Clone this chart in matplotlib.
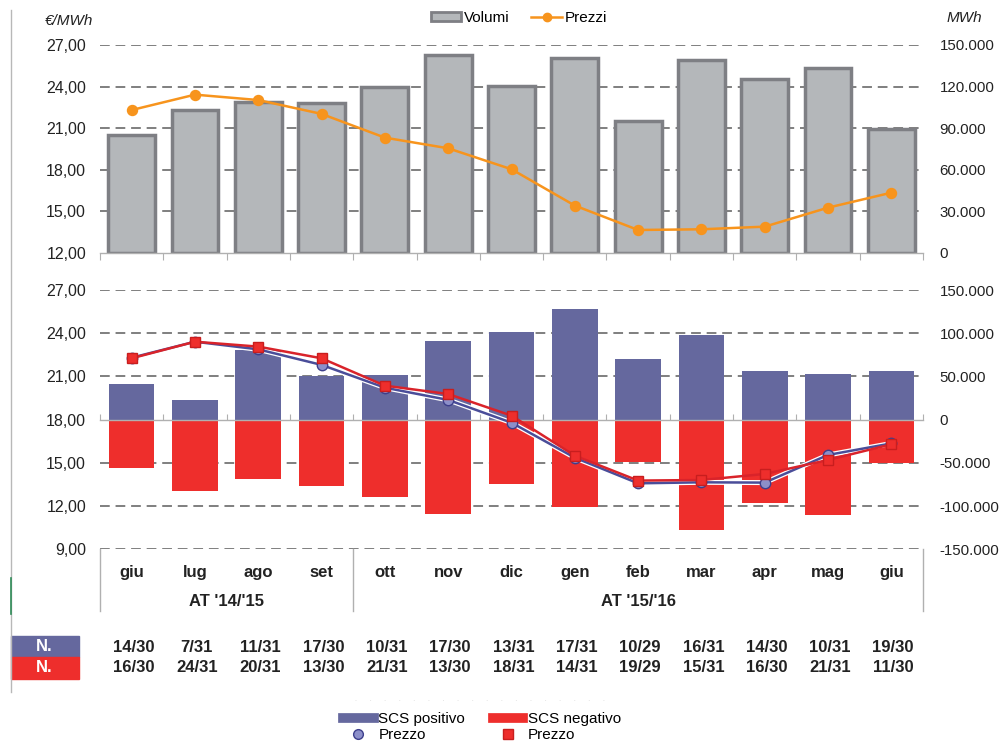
import matplotlib
matplotlib.use("Agg")
import matplotlib.pyplot as plt
from matplotlib.lines import Line2D
from matplotlib.patches import Patch, Rectangle
from matplotlib.ticker import FuncFormatter
from matplotlib.transforms import blended_transform_factory
import matplotlib.patheffects as pe

plt.rcParams['font.family'] = ['Liberation Sans', 'DejaVu Sans']

# ---- data ----
months = ["giu", "lug", "ago", "set", "ott", "nov", "dic",
          "gen", "feb", "mar", "apr", "mag", "giu"]
years = ["AT '14/'15", "AT '15/'16"]
year_len = [4, 9]

volumi = [85000, 103000, 109000, 108500, 119500, 143000, 120500,
          140500, 95000, 139500, 125500, 133500, 89500]
prezzi = [22.31, 23.42, 23.03, 22.03, 20.32, 19.55, 18.04,
          15.42, 13.66, 13.71, 13.90, 15.27, 16.35]

scs_pos = [41000, 23000, 81000, 51000, 52000, 91500, 101000,
           128000, 70000, 97500, 56500, 53000, 56500]
scs_neg = [-56500, -82500, -68500, -76500, -89500, -109000, -74000,
           -101000, -49500, -128000, -96000, -110000, -50000]
prezzo_pos = [22.30, 23.41, 22.88, 21.80, 20.22, 19.37, 17.79,
              15.36, 13.58, 13.65, 13.63, 15.55, 16.35]
prezzo_neg = [22.26, 23.41, 23.07, 22.26, 20.36, 19.78, 18.28,
              15.50, 13.77, 13.81, 14.23, 15.20, 16.29]

n_pos = ["14/30", "7/31", "11/31", "17/30", "10/31", "17/30", "13/31",
         "17/31", "10/29", "16/31", "14/30", "10/31", "19/30"]
n_neg = ["16/30", "24/31", "20/31", "13/30", "21/31", "13/30", "18/31",
         "14/31", "19/29", "15/31", "16/30", "21/31", "11/30"]

# ---- styles ----
GRAY_FACE = "#b4b7ba"
GRAY_EDGE = "#7e7f84"
ORANGE = "#f7941d"
BLUE = "#65689e"
BLUE_LINE = "#4a4d99"
BLUE_MARK = "#8c8fc9"
RED = "#ee2e2c"
RED_LINE = "#d9232a"
GRID = "#7f7f7f"
TXT = "#222222"
AXLINE = "#b0b0b0"

W, H = 999, 744
fig = plt.figure(figsize=(W / 100, H / 100), dpi=100)


def fy(py):
    return 1 - py / H


def fx(px):
    return px / W


x = list(range(len(months)))
bounds = [i - 0.5 for i in range(len(months) + 1)]
left, right = fx(100), fx(923)

fmt_left = FuncFormatter(lambda v, p: f"{v:.2f}".replace(".", ","))
fmt_right = FuncFormatter(lambda v, p: f"{v:,.0f}".replace(",", "."))

grid_kw = dict(color=GRID, linestyle=(0, (5, 3)), linewidth=1.4)
LBL = 11.5
RLBL = 10.8

# ================= top panel =================
axt = fig.add_axes([left, fy(253), right - left, fy(45) - fy(253)])
axt2 = axt.twinx()
axt.set_zorder(axt2.get_zorder() + 1)
axt.patch.set_visible(False)

axt2.bar(x, volumi, width=0.74, color=GRAY_FACE, edgecolor=GRAY_EDGE,
         linewidth=2.5, zorder=3)
axt2.set_ylim(0, 150000)
axt2.set_yticks(range(0, 150001, 30000))
axt2.yaxis.set_major_formatter(fmt_right)
for v in range(30000, 150001, 30000):
    axt2.axhline(v, zorder=1, **grid_kw)

axt.plot(x, prezzi, color=ORANGE, linewidth=1.8, marker="o",
         markersize=7.2, markerfacecolor=ORANGE, markeredgecolor=ORANGE,
         zorder=5)
axt.set_ylim(12, 27)
axt.set_yticks(range(12, 28, 3))
axt.yaxis.set_major_formatter(fmt_left)
axt.set_xlim(-0.5, len(months) - 0.5)
axt.set_xticks(bounds)
axt.set_xticklabels([])

for a in (axt, axt2):
    for s in ("top", "left", "right"):
        a.spines[s].set_visible(False)
    a.spines["bottom"].set_color(AXLINE)
    a.spines["bottom"].set_linewidth(1.0)
axt2.spines["bottom"].set_visible(False)
axt.tick_params(axis="x", length=5, color=AXLINE, direction="out")
axt.tick_params(axis="y", length=0, pad=10, labelsize=LBL, labelcolor=TXT)
axt2.tick_params(axis="y", length=0, pad=12, labelsize=RLBL, labelcolor=TXT)

# ================= bottom panel =================
axb = fig.add_axes([left, fy(549.3), right - left, fy(290) - fy(549.3)])
axb2 = axb.twinx()
axb.set_zorder(axb2.get_zorder() + 1)
axb.patch.set_visible(False)

axb2.bar(x, scs_pos, width=0.72, color=BLUE, edgecolor="none", zorder=3)
axb2.bar(x, scs_neg, width=0.72, color=RED, edgecolor="none", zorder=3)
axb2.set_ylim(-150000, 150000)
axb2.set_yticks(range(-150000, 150001, 50000))
axb2.yaxis.set_major_formatter(fmt_right)
for v in range(-150000, 150001, 50000):
    if v != 0:
        axb2.axhline(v, zorder=1, **grid_kw)

halo = [pe.Stroke(linewidth=3.6, foreground="white"), pe.Normal()]
axb.plot(x, prezzo_pos, color=BLUE_LINE, linewidth=1.8, path_effects=halo,
         zorder=5)
axb.plot(x, prezzo_pos, linestyle="none", marker="o", markersize=7.5,
         markerfacecolor=BLUE_MARK, markeredgecolor="#3d3f8c",
         markeredgewidth=1.0, zorder=5.5)
axb.plot(x, prezzo_neg, color=RED_LINE, linewidth=1.8, marker="s",
         markersize=7, markerfacecolor=RED, markeredgecolor="#c81e1e",
         markeredgewidth=1.0, zorder=6)
axb.set_ylim(9, 27)
axb.set_yticks(range(9, 28, 3))
axb.yaxis.set_major_formatter(fmt_left)
axb.set_xlim(-0.5, len(months) - 0.5)
axb.set_xticks(x)
axb.set_xticklabels(months, fontsize=12, fontweight="bold", color=TXT)
axb.tick_params(axis="x", length=0, pad=11)
axb.tick_params(axis="y", length=0, pad=10, labelsize=LBL, labelcolor=TXT)
axb2.tick_params(axis="y", length=0, pad=12, labelsize=RLBL, labelcolor=TXT)
for a in (axb, axb2):
    for s in a.spines.values():
        s.set_visible(False)

# zero line with category-boundary ticks
zero_ax = axb.secondary_xaxis(0.5)
zero_ax.set_xticks(bounds)
zero_ax.set_xticklabels([])
zero_ax.tick_params(axis="x", length=4, color=AXLINE, direction="out")
for s in zero_ax.spines.values():
    s.set_color(AXLINE)
    s.set_linewidth(1.0)

# year grouping box under the month labels
trans_b = blended_transform_factory(axb.transData, fig.transFigure)
edges = [-0.5]
for n in year_len:
    edges.append(edges[-1] + n)
for e in edges:
    axb.plot([e, e], [fy(549.3), fy(611)], transform=trans_b, color=AXLINE,
             linewidth=1.0, clip_on=False)
for i, label in enumerate(years):
    cx = (edges[i] + edges[i + 1]) / 2
    axb.text(cx, fy(601), label, transform=trans_b, ha="center", va="center",
             fontsize=12, fontweight="bold", color=TXT)

# ---- day count table ----
for i in x:
    axb.text(i + 0.03, fy(647), n_pos[i], transform=trans_b, ha="center",
             va="center", fontsize=12, fontweight="bold", color=TXT)
    axb.text(i + 0.03, fy(668), n_neg[i], transform=trans_b, ha="center",
             va="center", fontsize=12, fontweight="bold", color=TXT)

fig.patches.append(Rectangle((fx(11), fy(657)), fx(68), fy(636) - fy(657),
                             transform=fig.transFigure, color=BLUE))
fig.patches.append(Rectangle((fx(11), fy(679)), fx(68), fy(657) - fy(679),
                             transform=fig.transFigure, color=RED))
fig.text(fx(44), fy(646.5), "N.", ha="center", va="center", fontsize=12,
         fontweight="bold", color="white")
fig.text(fx(44), fy(668), "N.", ha="center", va="center", fontsize=12,
         fontweight="bold", color="white")

# left frame line
fig.add_artist(Line2D([fx(11), fx(11)], [fy(10), fy(692)], color="#b8b8b8",
                      linewidth=1.0))
fig.add_artist(Line2D([fx(11), fx(11)], [fy(578), fy(614)], color="#2e8b57",
                      linewidth=1.2))
fig.add_artist(Line2D([fx(355), fx(605)], [fy(700), fy(700)], color="#e6e6e6",
                      linewidth=0.7, linestyle=(0, (1, 14))))

# unit labels
fig.text(fx(45), fy(21), "€/MWh", ha="left", va="center", fontsize=11,
         style="italic", color=TXT)
fig.text(fx(982), fy(18), "MWh", ha="right", va="center", fontsize=11,
         style="italic", color=TXT)

# legends
top_handles = [Patch(facecolor=GRAY_FACE, edgecolor=GRAY_EDGE, linewidth=2),
               Line2D([], [], color=ORANGE, linewidth=1.8, marker="o",
                      markersize=6, markerfacecolor=ORANGE,
                      markeredgecolor=ORANGE)]
fig.legend(top_handles, ["Volumi", "Prezzi"], loc="center",
           bbox_to_anchor=(fx(519), fy(18)), ncol=2, frameon=False,
           fontsize=11, handlelength=2.0, handleheight=0.6, handletextpad=0.2,
           columnspacing=1.4, borderpad=0)

bot_handles = [Line2D([], [], color=BLUE, linewidth=7),
               Line2D([], [], linestyle="none", marker="o", markersize=7,
                      markerfacecolor=BLUE_MARK, markeredgecolor="#3d3f8c"),
               Line2D([], [], color=RED, linewidth=7),
               Line2D([], [], linestyle="none", marker="s", markersize=6.5,
                      markerfacecolor=RED, markeredgecolor="#c81e1e")]
fig.legend(bot_handles, ["SCS positivo", "Prezzo", "SCS negativo", "Prezzo"],
           loc="center", bbox_to_anchor=(fx(482), fy(727)), ncol=2,
           frameon=False, fontsize=11, handlelength=2.0, handletextpad=0.3,
           columnspacing=1.8, labelspacing=0.15, borderpad=0)

fig.savefig("out.png", dpi=100)
